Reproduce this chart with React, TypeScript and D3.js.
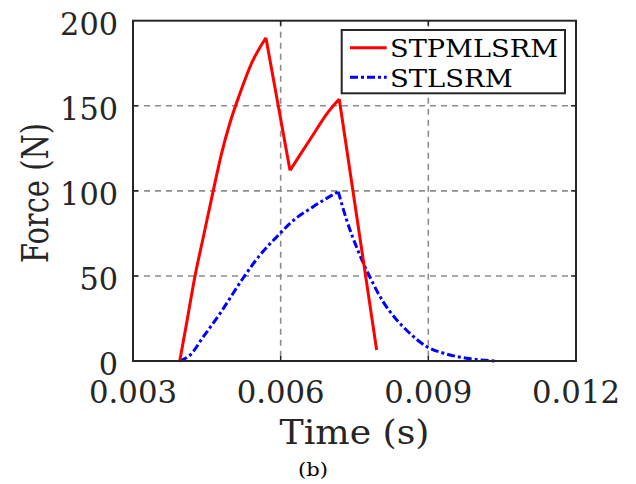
import * as d3 from "d3";

// time in seconds, force in N
const redTime = [0.00395, 0.0041, 0.00426, 0.00443, 0.00463, 0.0048, 0.00497, 0.00517, 0.00541, 0.0057, 0.00619, 0.00639, 0.00666, 0.00693, 0.00719, 0.00795];
const redForce = [0, 24, 50, 73, 100, 122, 140, 157, 175, 190, 112, 121, 133, 145, 154, 6.5];

const blueTime = [0.00395, 0.00416, 0.00443, 0.00477, 0.00521, 0.00558, 0.00599, 0.00619, 0.00666, 0.00717, 0.00734, 0.00758, 0.00781, 0.00808, 0.00836, 0.00859, 0.00897, 0.00937, 0.00978, 0.01039];
const blueForce = [0, 3.5, 14.3, 28, 47.6, 62.3, 75, 80.9, 90.7, 99.5, 82.9, 64.2, 49.5, 34.9, 24.1, 17.2, 8.4, 4.1, 1.6, 0];

// indices where the curves have sharp corners
const redCorners = [0, 9, 10, 14, 15];
const blueCorners = [0, 9, 19];

const xTicks = [0.003, 0.006, 0.009, 0.012];
const yTicks = [0, 50, 100, 150, 200];
const seriesNames = ["STPMLSRM", "STLSRM"];

const W = 636;
const H = 484;
const left = 133, right = 576, top = 20.7, bottom = 361;
const font = "'DejaVu Serif', serif";
const axisColor = "#262626";

export default function App() {
  const x = d3.scaleLinear().domain([0.003, 0.012]).range([left, right]);
  const y = d3.scaleLinear().domain([0, 200]).range([bottom, top]);

  const line = d3.line<[number, number]>()
    .x(d => x(d[0]))
    .y(d => y(d[1]))
    .curve(d3.curveMonotoneX);

  // draw each piece between corners on its own so the corners stay sharp
  const pieces = (ts: number[], fs: number[], corners: number[]) => {
    const pts = ts.map((t, i) => [t, fs[i]] as [number, number]);
    return d3.pairs(corners).map(([a, b]) => line(pts.slice(a, b + 1)) || "").join("");
  };

  const redPath = pieces(redTime, redForce, redCorners);
  const bluePath = pieces(blueTime, blueForce, blueCorners);

  const txt = { fontFamily: font };

  return (
    <svg width={W} height={H} style={{ position: "absolute", left: 0, top: 0, background: "#fff" }}>
      {/* grid */}
      {xTicks.slice(1, -1).map(t => (
        <line key={"gx" + t} x1={x(t)} x2={x(t)} y1={top} y2={bottom}
          stroke="#8c8c8c" strokeWidth={1.6} strokeDasharray="6,5" />
      ))}
      {yTicks.slice(1, -1).map(v => (
        <line key={"gy" + v} x1={left} x2={right} y1={y(v)} y2={y(v)}
          stroke="#8c8c8c" strokeWidth={1.6} strokeDasharray="6,5" />
      ))}

      {/* series */}
      <path d={bluePath} fill="none" stroke="#0000ff" strokeWidth={3}
        strokeDasharray="8,3,3,3" />
      <path d={redPath} fill="none" stroke="#ff0000" strokeWidth={3}
        strokeLinejoin="miter" />

      {/* ticks */}
      {xTicks.slice(1, -1).map(t => (
        <g key={"tx" + t}>
          <line x1={x(t)} x2={x(t)} y1={bottom} y2={bottom - 5} stroke={axisColor} strokeWidth={1.5} />
          <line x1={x(t)} x2={x(t)} y1={top} y2={top + 5} stroke={axisColor} strokeWidth={1.5} />
        </g>
      ))}
      {yTicks.slice(1, -1).map(v => (
        <g key={"ty" + v}>
          <line x1={left} x2={left + 5} y1={y(v)} y2={y(v)} stroke={axisColor} strokeWidth={1.5} />
          <line x1={right} x2={right - 5} y1={y(v)} y2={y(v)} stroke={axisColor} strokeWidth={1.5} />
        </g>
      ))}

      {/* box */}
      <rect x={left} y={top} width={right - left} height={bottom - top}
        fill="none" stroke={axisColor} strokeWidth={2} />

      {/* tick labels */}
      {xTicks.map(t => (
        <text key={"lx" + t} x={x(t)} y={402.5} textAnchor="middle" textLength={88}
          lengthAdjust="spacingAndGlyphs" style={txt} fontSize={31} fill={axisColor}>{t.toFixed(3)}</text>
      ))}
      {yTicks.map(v => (
        <text key={"ly" + v} x={118} y={y(v) + 14} textAnchor="end" textLength={19.3 * String(v).length}
          lengthAdjust="spacingAndGlyphs" style={txt} fontSize={31} fill={axisColor}>{v}</text>
      ))}

      {/* axis titles */}
      <text x={(left + right) / 2} y={444} textAnchor="middle" textLength={150} lengthAdjust="spacingAndGlyphs"
        style={txt} fontSize={33} fill={axisColor}>Time (s)</text>
      <text transform={`translate(48,193) scale(1.19,1) rotate(-90)`} textAnchor="middle"
        textLength={140} lengthAdjust="spacingAndGlyphs"
        style={txt} fontSize={32} fill={axisColor}>Force (N)</text>
      <text x={313} y={476} textAnchor="middle" textLength={30} lengthAdjust="spacingAndGlyphs"
        style={txt} fontSize={19} fill="#000">(b)</text>

      {/* legend */}
      <rect x={341.7} y={30} width={223.3} height={63.3} fill="#fff" stroke={axisColor} strokeWidth={2} />
      <line x1={350} x2={386.7} y1={47.7} y2={47.7} stroke="#ff0000" strokeWidth={3} />
      <line x1={350} x2={386.7} y1={77.3} y2={77.3} stroke="#0000ff" strokeWidth={3} strokeDasharray="8,3,3,3" />
      <text x={390} y={57} textLength={168} lengthAdjust="spacingAndGlyphs"
        style={txt} fontSize={24.7} fill="#000">{seriesNames[0]}</text>
      <text x={390} y={87} textLength={122.7} lengthAdjust="spacingAndGlyphs"
        style={txt} fontSize={24.7} fill="#000">{seriesNames[1]}</text>
    </svg>
  );
}
